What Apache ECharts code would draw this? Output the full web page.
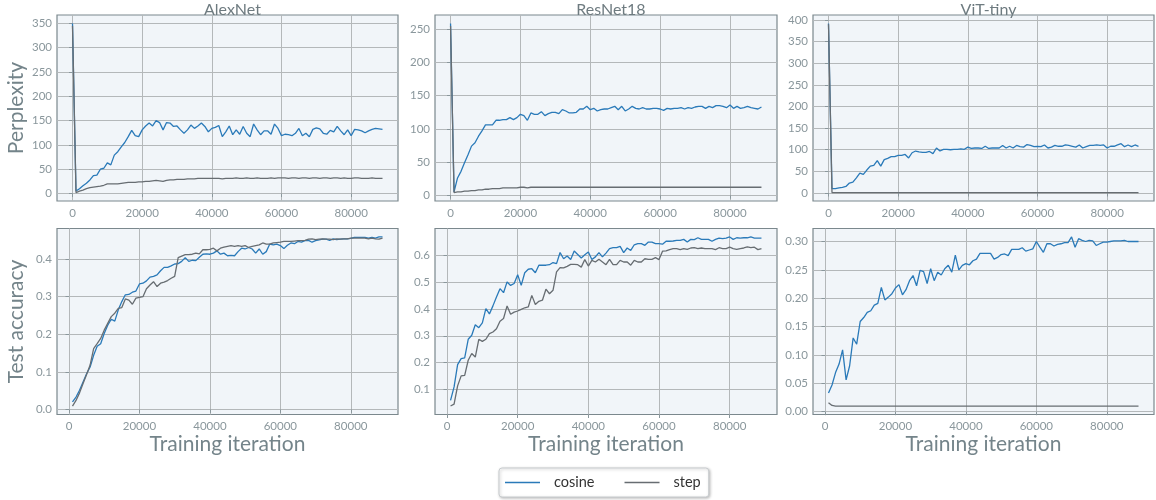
<!DOCTYPE html>
<html>
<head>
<meta charset="utf-8">
<script src="https://cdn.jsdelivr.net/npm/echarts@6/dist/echarts.min.js"></script>
<style>html,body{margin:0;padding:0;background:#fff}#c{width:1156px;height:500px}</style>
</head>
<body>
<div id="c"></div>
<script>
// ---------- DATA ----------
const ITERS = [0,1000,2000,3000,4000,5000,6000,7000,8000,9000,10000,11000,12000,13000,14000,15000,16000,17000,18000,19000,20000,21000,22000,23000,24000,25000,26000,27000,28000,29000,30000,31000,32000,33000,34000,35000,36000,37000,38000,39000,40000,41000,42000,43000,44000,45000,46000,47000,48000,49000,50000,51000,52000,53000,54000,55000,56000,57000,58000,59000,60000,61000,62000,63000,64000,65000,66000,67000,68000,69000,70000,71000,72000,73000,74000,75000,76000,77000,78000,79000,80000,81000,82000,83000,84000,85000,86000,87000,88000,89000];
const TITLES = ['AlexNet','ResNet18','ViT-tiny'];
const SERIES_NAMES = ['cosine','step'];
const X_TICKS = [0,20000,40000,60000,80000];

// Perplexity (iterations 0..89000)
const alex_ppl_cosine = [350,5,10,16,21,28,37,38,50,52, 63,59,79,86,96,105,117,130,119,117, 131,139,145,139,150,146,131,146,145,138, 139,131,124,131,141,134,139,145,138,127, 134,136,140,117,127,139,121,131,122,138, 124,117,143,131,121,129,129,122,143,134, 119,122,121,119,124,134,119,124,117,132, 135,133,124,122,130,127,138,129,121,131, 119,132,131,129,125,129,132,134,133,132];
const alex_ppl_step = [345,2,5,7,10,12,13,14,15,17, 20,20,20,20,21,22,23,23,23,24, 24,25,25,26,27,26,25,27,28,28, 29,29,29,30,30,30,31,31,31,31, 31,31,31,30,31,31,31,32,31,31, 32,31,31,32,31,31,31,32,31,32, 32,32,31,32,32,31,32,32,31,32, 32,31,32,32,31,32,32,31,32,31, 31,32,32,31,31,31,32,31,31,31];
const res_ppl_cosine = [259,5,26,36,49,61,74,79,89,97, 106,106,106,113,113,114,114,117,114,117, 122,120,113,124,122,122,126,120,123,125, 125,123,129,127,124,124,125,130,130,134, 129,131,127,129,130,130,132,134,129,134, 127,130,134,131,130,132,130,130,131,131, 130,128,131,130,131,131,132,130,132,131, 133,134,134,131,134,132,135,135,134,132, 136,131,134,131,132,134,132,131,130,133];
const res_ppl_step = [255,4,5,5,6,6,7,7,8,8, 9,9,10,10,10,11,11,11,11,11, 12,12,11,12,12,12,12,12,12,12, 12,12,12,12,12,12,12,12,12,12, 12,12,12,12,12,12,12,12,12,12, 12,12,12,12,12,12,12,12,12,12, 12,12,12,12,12,12,12,12,12,12, 12,12,12,12,12,12,12,12,12,12, 12,12,12,12,12,12,12,12,12,12];
const vit_ppl_cosine = [392,10,10,12,13,15,23,25,35,46, 43,53,62,64,75,62,77,80,84,84, 87,87,89,81,93,97,95,94,94,96, 91,104,97,101,101,100,101,101,102,101, 106,103,104,104,103,108,103,104,104,104, 110,104,108,104,110,107,106,112,110,107, 108,107,111,104,106,110,108,108,111,110, 108,106,111,104,107,110,110,111,110,111, 104,108,108,111,114,107,111,107,111,108];
const vit_ppl_step = [390,1,1,1,1,1,1,1,1,1, 1,1,1,1,1,1,1,1,1,1, 1,1,1,1,1,1,1,1,1,1, 1,1,1,1,1,1,1,1,1,1, 1,1,1,1,1,1,1,1,1,1, 1,1,1,1,1,1,1,1,1,1, 1,1,1,1,1,1,1,1,1,1, 1,1,1,1,1,1,1,1,1,1, 1,1,1,1,1,1,1,1,1,1];

// Test accuracy (iterations 1000..89000)
const alex_acc_cosine = [0.020,0.033,0.051,0.073,0.095,0.113,0.144,0.168,0.175,0.202, 0.224,0.240,0.235,0.265,0.287,0.305,0.306,0.312,0.315,0.334, 0.336,0.342,0.352,0.354,0.358,0.369,0.378,0.378,0.382,0.387, 0.388,0.394,0.404,0.394,0.397,0.396,0.405,0.413,0.414,0.413, 0.416,0.422,0.413,0.416,0.409,0.410,0.409,0.420,0.429,0.427, 0.431,0.427,0.416,0.427,0.413,0.420,0.440,0.438,0.440,0.436, 0.428,0.437,0.443,0.441,0.447,0.445,0.449,0.450,0.445,0.449, 0.451,0.453,0.453,0.450,0.454,0.452,0.453,0.454,0.454,0.455, 0.458,0.458,0.458,0.458,0.456,0.458,0.456,0.459,0.459];
const alex_acc_step = [0.009,0.024,0.044,0.069,0.093,0.118,0.162,0.175,0.189,0.211, 0.229,0.247,0.256,0.269,0.271,0.294,0.291,0.280,0.296,0.298, 0.300,0.321,0.331,0.340,0.327,0.336,0.339,0.343,0.349,0.354, 0.404,0.408,0.412,0.412,0.413,0.416,0.414,0.425,0.425,0.426, 0.429,0.422,0.429,0.432,0.434,0.436,0.434,0.436,0.434,0.436, 0.431,0.434,0.436,0.438,0.443,0.440,0.440,0.443,0.444,0.445, 0.447,0.447,0.447,0.448,0.449,0.449,0.450,0.453,0.454,0.452, 0.453,0.454,0.453,0.453,0.452,0.454,0.453,0.454,0.454,0.456, 0.456,0.456,0.456,0.456,0.454,0.456,0.454,0.453,0.456];
const res_acc_cosine = [0.060,0.110,0.193,0.215,0.218,0.287,0.302,0.341,0.330,0.348, 0.401,0.381,0.411,0.444,0.475,0.460,0.500,0.487,0.494,0.527, 0.487,0.534,0.547,0.549,0.534,0.562,0.562,0.562,0.564,0.572, 0.568,0.609,0.586,0.596,0.583,0.615,0.602,0.589,0.601,0.611, 0.583,0.593,0.609,0.593,0.607,0.624,0.627,0.627,0.632,0.609, 0.626,0.617,0.638,0.642,0.642,0.636,0.648,0.648,0.642,0.642, 0.640,0.651,0.651,0.652,0.654,0.654,0.658,0.648,0.658,0.657, 0.664,0.658,0.658,0.658,0.651,0.658,0.663,0.661,0.663,0.667, 0.658,0.664,0.663,0.664,0.664,0.667,0.663,0.663,0.663];
const res_acc_step = [0.039,0.046,0.114,0.151,0.153,0.209,0.234,0.221,0.287,0.279, 0.287,0.308,0.314,0.326,0.354,0.364,0.411,0.380,0.388,0.392, 0.398,0.404,0.407,0.450,0.416,0.428,0.432,0.473,0.456,0.469, 0.537,0.553,0.552,0.558,0.565,0.565,0.564,0.555,0.583,0.559, 0.580,0.574,0.584,0.574,0.564,0.584,0.564,0.564,0.580,0.574, 0.574,0.562,0.580,0.574,0.574,0.586,0.584,0.584,0.590,0.583, 0.614,0.615,0.620,0.624,0.624,0.620,0.624,0.621,0.626,0.627, 0.624,0.626,0.624,0.624,0.624,0.620,0.627,0.624,0.624,0.629, 0.624,0.621,0.624,0.626,0.630,0.627,0.629,0.620,0.624];
const vit_acc_cosine = [0.033,0.047,0.069,0.084,0.109,0.056,0.081,0.130,0.119,0.159, 0.166,0.175,0.178,0.188,0.191,0.219,0.197,0.202,0.208,0.218, 0.224,0.206,0.215,0.231,0.240,0.222,0.249,0.247,0.226,0.252, 0.231,0.246,0.241,0.252,0.258,0.246,0.276,0.250,0.258,0.261, 0.259,0.266,0.269,0.279,0.279,0.279,0.279,0.269,0.272,0.277, 0.278,0.275,0.286,0.286,0.286,0.289,0.283,0.285,0.287,0.300, 0.290,0.281,0.296,0.296,0.292,0.295,0.296,0.298,0.298,0.308, 0.290,0.305,0.302,0.300,0.302,0.301,0.293,0.296,0.299,0.299, 0.300,0.301,0.301,0.301,0.302,0.300,0.300,0.300,0.300];
const vit_acc_step = [0.016,0.011,0.010,0.010,0.010,0.010,0.010,0.010,0.010,0.010, 0.010,0.010,0.010,0.010,0.010,0.010,0.010,0.010,0.010,0.010, 0.010,0.010,0.010,0.010,0.010,0.010,0.010,0.010,0.010,0.010, 0.010,0.010,0.010,0.010,0.010,0.010,0.010,0.010,0.010,0.010, 0.010,0.010,0.010,0.010,0.010,0.010,0.010,0.010,0.010,0.010, 0.010,0.010,0.010,0.010,0.010,0.010,0.010,0.010,0.010,0.010, 0.010,0.010,0.010,0.010,0.010,0.010,0.010,0.010,0.010,0.010, 0.010,0.010,0.010,0.010,0.010,0.010,0.010,0.010,0.010,0.010, 0.010,0.010,0.010,0.010,0.010,0.010,0.010,0.010,0.010];

const Y_TICKS_PPL = [[0,50,100,150,200,250,300,350],[0,50,100,150,200,250],[0,50,100,150,200,250,300,350,400]];
const Y_TICKS_ACC = [[0,0.1,0.2,0.3,0.4],[0.1,0.2,0.3,0.4,0.5,0.6],[0,0.05,0.1,0.15,0.2,0.25,0.3]];
const Y_DEC_ACC = [1,1,2];

// ---------- STYLE ----------
const FONT = 'Lato, "Open Sans", sans-serif';
const C_COS = '#2a7ab9', C_STEP = '#676d72';
const TXT = '#8a979c', TITLE = '#6e7b80';
const LEFTS = [57, 435, 813], WIDTHS = [341, 342, 341];
const TOPS = [15, 228.5], H = 186;

function pad(arrs) {
  let lo = Infinity, hi = -Infinity;
  arrs.forEach(a => a.forEach(v => { if (v < lo) lo = v; if (v > hi) hi = v; }));
  const m = (hi - lo) * 0.05;
  return [lo - m, hi + m];
}
const pairs = (xs, ys) => ys.map((y, i) => [xs[i], y]);

const PPL = [[alex_ppl_cosine, alex_ppl_step],[res_ppl_cosine, res_ppl_step],[vit_ppl_cosine, vit_ppl_step]];
const ACC = [[alex_acc_cosine, alex_acc_step],[res_acc_cosine, res_acc_step],[vit_acc_cosine, vit_acc_step]];
const ITERS_ACC = ITERS.slice(1);

const grid = [], xAxis = [], yAxis = [], series = [], title = [];
for (let r = 0; r < 2; r++) {
  for (let c = 0; c < 3; c++) {
    const idx = r * 3 + c;
    const data = r === 0 ? PPL[c] : ACC[c];
    const xs = r === 0 ? ITERS : ITERS_ACC;
    grid.push({left: LEFTS[c], top: TOPS[r], width: WIDTHS[c], height: H, show: true,
      backgroundColor: '#f1f5f9', borderColor: '#7b888d', borderWidth: 1.2});
    const xr = pad([xs]);
    const yr = pad(data);
    const yt = r === 0 ? Y_TICKS_PPL[c] : Y_TICKS_ACC[c];
    xAxis.push({type: 'value', gridIndex: idx, min: xr[0], max: xr[1],
      axisLine: {show: false},
      axisTick: {show: true, length: 3.5, customValues: X_TICKS, lineStyle: {color: TXT}},
      axisLabel: {customValues: X_TICKS, color: TXT, fontFamily: FONT, fontSize: 11.5, margin: 6,
        formatter: v => String(Math.round(v))},
      splitLine: {show: true, lineStyle: {color: '#b4b8ba', width: 1}},
      name: r === 1 ? 'Training iteration' : '', nameLocation: 'middle', nameGap: 18,
      nameTextStyle: {color: '#74848a', fontFamily: FONT, fontSize: 21}});
    yAxis.push({type: 'value', gridIndex: idx, min: yr[0], max: yr[1],
      axisLine: {show: false},
      axisTick: {show: true, length: 3.5, customValues: yt, lineStyle: {color: TXT}},
      axisLabel: {customValues: yt, color: TXT, fontFamily: FONT, fontSize: 11.5, margin: 5,
        formatter: v => r === 0 ? String(Math.round(v)) : v.toFixed(Y_DEC_ACC[c])},
      splitLine: {show: true, lineStyle: {color: '#b4b8ba', width: 1}},
      name: c === 0 ? (r === 0 ? 'Perplexity' : 'Test accuracy') : '', nameLocation: 'middle', nameGap: 30,
      nameTextStyle: {color: '#74848a', fontFamily: FONT, fontSize: 21}});
    [C_COS, C_STEP].forEach((col, k) => {
      series.push({type: 'line', name: SERIES_NAMES[k], xAxisIndex: idx, yAxisIndex: idx,
        data: pairs(xs, data[k]), symbol: 'none', showSymbol: false, animation: false,
        lineStyle: {color: col, width: 1.3}, itemStyle: {color: col}, z: 2 + k});
    });
    if (r === 0) {
      title.push({text: TITLES[c], left: LEFTS[c] + WIDTHS[c] / 2, top: -3, textAlign: 'center',
        textStyle: {color: TITLE, fontFamily: FONT, fontSize: 16, fontWeight: 'normal'}});
    }
  }
}

const chart = echarts.init(document.getElementById('c'), null, {renderer: 'canvas'});
chart.setOption({
  animation: false,
  backgroundColor: '#ffffff',
  title, grid, xAxis, yAxis, series,
  legend: {data: SERIES_NAMES.map(n => ({name: n, icon: 'rect'})), left: 499, top: 468,
    padding: [7, 8, 7, 6], itemWidth: 35, itemHeight: 1.4,
    itemGap: 30, borderColor: '#c8cccf', borderWidth: 1, borderRadius: 3, backgroundColor: '#fff',
    shadowColor: 'rgba(0,0,0,0.25)', shadowBlur: 3, shadowOffsetX: 1, shadowOffsetY: 1,
    textStyle: {color: '#333', fontFamily: FONT, fontSize: 14.5, padding: [0, 0, 0, 9]}}
});
</script>
</body>
</html>
